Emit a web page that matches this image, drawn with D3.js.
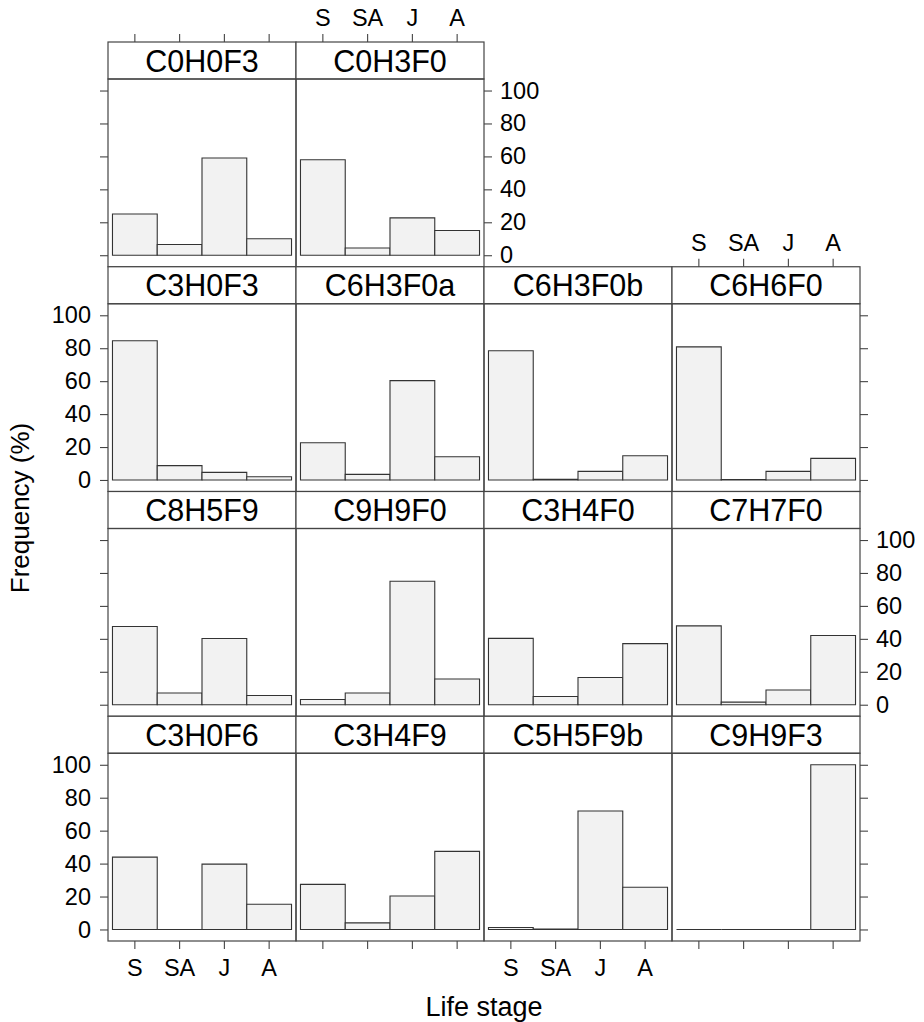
<!DOCTYPE html>
<html>
<head>
<meta charset="utf-8">
<script src="https://cdn.jsdelivr.net/npm/d3@7"></script>
<style>
  body { margin: 0; background: #fff; }
  svg { display: block; font-family: "Liberation Sans", Arial, sans-serif; }
</style>
</head>
<body>
<svg id="chart" width="924" height="1022"></svg>
<script>
// life stages on the x axis
const stages = ['S', 'SA', 'J', 'A'];
const yTicks = [0, 20, 40, 60, 80, 100];

// panel names, top row first, left to right
const panelNames = [
  'C0H0F3', 'C0H3F0',
  'C3H0F3', 'C6H3F0a', 'C6H3F0b', 'C6H6F0',
  'C8H5F9', 'C9H9F0', 'C3H4F0', 'C7H7F0',
  'C3H0F6', 'C3H4F9', 'C5H5F9b', 'C9H9F3'
];

// frequency (%) per panel, in order S, SA, J, A
const freqC0H0F3 = [25, 6.5, 59, 10];
const freqC0H3F0 = [58, 4.4, 22.7, 15];
const freqC3H0F3 = [84.5, 8.7, 4.6, 2.0];
const freqC6H3F0a = [22.6, 3.4, 60.3, 14.1];
const freqC6H3F0b = [78.5, 0.4, 5.2, 14.7];
const freqC6H6F0 = [80.8, 0.3, 5.2, 13.1];
const freqC8H5F9 = [47.5, 7.1, 40.2, 5.6];
const freqC9H9F0 = [3.2, 7.1, 75, 15.6];
const freqC3H4F0 = [40.3, 5.0, 16.5, 37.1];
const freqC7H7F0 = [47.9, 1.6, 8.9, 42];
const freqC3H0F6 = [43.9, 0, 39.7, 15.3];
const freqC3H4F9 = [27.4, 4.0, 20.3, 47.4];
const freqC5H5F9b = [1.2, 0.3, 71.9, 25.6];
const freqC9H9F3 = [0, 0, 0, 100];

const freqs = [
  freqC0H0F3, freqC0H3F0,
  freqC3H0F3, freqC6H3F0a, freqC6H3F0b, freqC6H6F0,
  freqC8H5F9, freqC9H9F0, freqC3H4F0, freqC7H7F0,
  freqC3H0F6, freqC3H4F9, freqC5H5F9b, freqC9H9F3
];

// layout
const gridLeft = 108, gridTop = 42;
const colW = 188, rowH = 224.75, stripH = 37;
const panelH = rowH - stripH;
const lineCol = '#444';
const tickFont = 23.5;

const svg = d3.select('#chart');

const x = d3.scaleBand().domain(stages).range([0, colW])
  .paddingInner(0).paddingOuter(0.1);
// lattice pads the 0-100 range by 7% on each side
const y = d3.scaleLinear().domain([-7, 107]).range([panelH, 0]);

// grid cell of each panel: first two in the top row, then rows of four
function cellOf(i) {
  if (i < 2) return { row: 0, col: i };
  return { row: 1 + Math.floor((i - 2) / 4), col: (i - 2) % 4 };
}

function styleAxis(g, showLabels) {
  g.select('.domain').remove();
  g.selectAll('.tick line').attr('stroke', lineCol).attr('stroke-width', 1.1);
  g.selectAll('.tick text')
    .attr('fill', '#000')
    .style('font-size', tickFont + 'px')
    .style('display', showLabels ? null : 'none');
}

panelNames.forEach((name, i) => {
  const { row, col } = cellOf(i);
  const g = svg.append('g')
    .attr('transform', `translate(${gridLeft + col * colW},${gridTop + row * rowH})`);

  // strip
  g.append('rect')
    .attr('x', 0).attr('y', 0)
    .attr('width', colW).attr('height', stripH)
    .attr('fill', '#fff').attr('stroke', lineCol).attr('stroke-width', 1.2);
  g.append('text')
    .attr('x', colW / 2).attr('y', stripH - 7.5)
    .attr('text-anchor', 'middle')
    .style('font-size', '30.5px')
    .text(name);

  const p = g.append('g').attr('transform', `translate(0,${stripH})`);

  // bars, drawn as paths so zero values still show as a line
  p.selectAll('path.bar')
    .data(stages.map((s, k) => ({ stage: s, value: freqs[i][k] })))
    .join('path')
    .attr('class', 'bar')
    .attr('d', d => {
      const x0 = x(d.stage), x1 = x0 + x.bandwidth();
      const y0 = y(0), y1 = y(d.value);
      return `M${x0},${y0}H${x1}V${y1}H${x0}Z`;
    })
    .attr('fill', '#f2f2f2')
    .attr('stroke', '#333')
    .attr('stroke-width', 1.1);

  // panel border
  p.append('rect')
    .attr('x', 0).attr('y', 0)
    .attr('width', colW).attr('height', panelH)
    .attr('fill', 'none').attr('stroke', lineCol).attr('stroke-width', 1.2);

  // y axes, alternating like lattice
  if (col === 0) {
    const showLab = row % 2 === 1;
    p.append('g')
      .call(d3.axisLeft(y).tickValues(yTicks).tickSize(8).tickPadding(9))
      .call(ax => styleAxis(ax, showLab));
  }
  const isRightEdge = (row === 0 && col === 1) || (row > 0 && col === 3);
  if (isRightEdge) {
    const showLab = row % 2 === 0;
    p.append('g')
      .attr('transform', `translate(${colW},0)`)
      .call(d3.axisRight(y).tickValues(yTicks).tickSize(8).tickPadding(8))
      .call(ax => styleAxis(ax, showLab));
  }

  // top x axes
  const topRowOfCol = col < 2 ? 0 : 1;
  if (row === topRowOfCol && col !== 2) {
    g.append('g')
      .call(d3.axisTop(x).tickSize(8).tickPadding(8))
      .call(ax => styleAxis(ax, col % 2 === 1));
  }

  // bottom x axes
  if (row === 3) {
    g.append('g')
      .attr('transform', `translate(0,${rowH})`)
      .call(d3.axisBottom(x).tickSize(8).tickPadding(10))
      .call(ax => styleAxis(ax, col % 2 === 0));
  }
});

// axis titles
svg.append('text')
  .attr('transform', 'translate(29,508) rotate(-90)')
  .attr('text-anchor', 'middle')
  .style('font-size', '26px')
  .text('Frequency (%)');

svg.append('text')
  .attr('x', gridLeft + 2 * colW).attr('y', 1016)
  .attr('text-anchor', 'middle')
  .style('font-size', '27px')
  .text('Life stage');
</script>
</body>
</html>
